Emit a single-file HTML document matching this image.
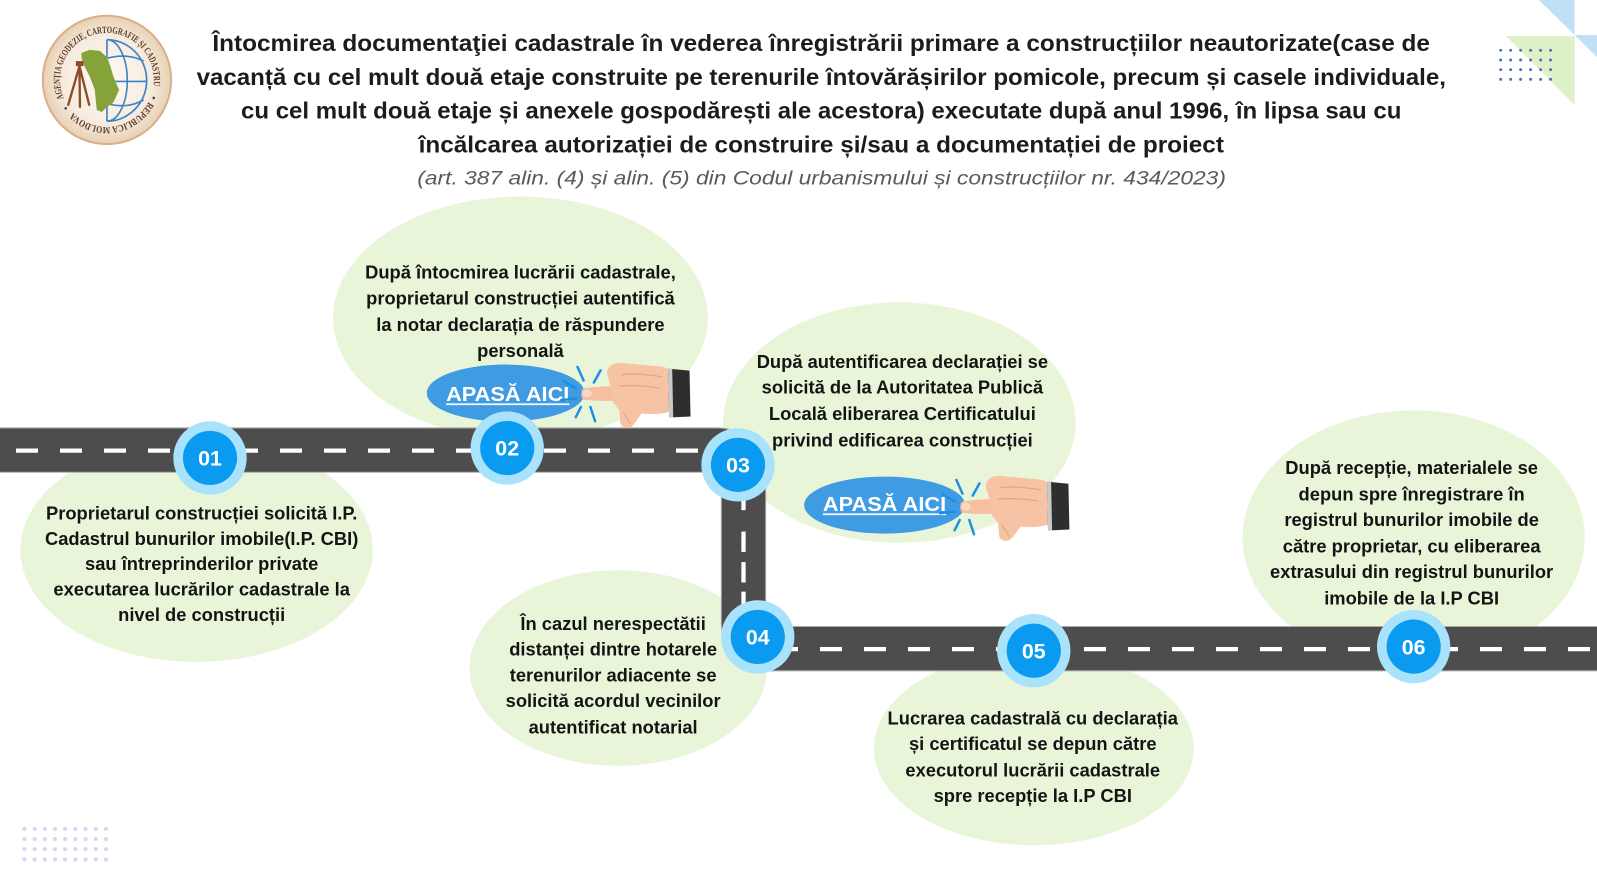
<!DOCTYPE html>
<html>
<head>
<meta charset="utf-8">
<style>
html,body{margin:0;padding:0;background:#fff;}
svg{display:block;}
.t{font-family:"Liberation Sans",Arial,sans-serif;font-weight:bold;fill:#1c1c1c;}
.b{font-family:"Liberation Sans",Arial,sans-serif;font-weight:bold;font-size:18px;fill:#141414;text-anchor:middle;}
.n{font-family:"Liberation Sans",Arial,sans-serif;font-weight:bold;font-size:21px;fill:#fff;text-anchor:middle;}
.btn{font-family:"Liberation Sans",Arial,sans-serif;font-weight:bold;font-size:20px;fill:#fff;}
.lg{font-family:"Liberation Serif","Times New Roman",serif;font-weight:bold;font-size:9.5px;fill:#5b3a26;}
</style>
</head>
<body>
<svg width="1597" height="890" viewBox="0 0 1568 874" preserveAspectRatio="none" xmlns="http://www.w3.org/2000/svg">
<defs>
<radialGradient id="lgbg" cx="50%" cy="50%" r="50%">
<stop offset="0" stop-color="#fffbf6"/>
<stop offset="0.7" stop-color="#f6ebde"/>
<stop offset="1" stop-color="#e8d0b4"/>
</radialGradient>
<path id="lgc" d="M63.31,97.94 A46,46 0 1 1 146.69,59.06 A46,46 0 1 1 63.31,97.94"/>
<g id="hand">
<path d="M1,-5.5 C8,-7 25,-8 38,-8 L40,6 C28,7 10,7 1,5.5 C-2,4 -2,-4 1,-5.5 Z" fill="#f5bfa0"/>
<ellipse cx="4.5" cy="-0.5" rx="4.5" ry="3.8" fill="#fbd9c8"/>
<path d="M24,-20 C24,-30 34,-32 44,-30 L78,-27 C84,-26 86,-22 86,-18 L86,17 C78,20 66,20 58,19 L50,30 C46,35 38,34 37,28 L36,16 L30,8 L28,-6 Z" fill="#f6c3a5"/>
<path d="M38,-19 C50,-21 64,-19 78,-17 M36,-8 C48,-9 62,-8 76,-6" stroke="#e6a587" stroke-width="1.3" fill="none"/>
<path d="M40,18 L47,29" stroke="#e6a587" stroke-width="1.2" fill="none"/>
<path d="M84,-25 L105,-23 L106,22 L85,23 Z" fill="#2e2e2e"/>
<path d="M84,-25 L88,-25 L89,23 L85,23 Z" fill="#c9c9c9"/>
</g>
<g id="spark" stroke="#1a8fe3" stroke-width="2.4" stroke-linecap="round">
<line x1="-19" y1="-13" x2="-6.7" y2="-5.7"/>
<line x1="-21" y1="6" x2="-6.7" y2="4.3"/>
<line x1="-5" y1="-26.7" x2="1" y2="-13.3"/>
<line x1="17.7" y1="-23.3" x2="11" y2="-11.3"/>
<line x1="-1.7" y1="12.7" x2="-6.7" y2="22.7"/>
<line x1="7.7" y1="12.7" x2="12.3" y2="26.7"/>
</g>
</defs>

<!-- top-right decoration -->
<polygon points="1511,0 1546,0 1546,34.4" fill="#c0e0f6"/>
<polygon points="1546,34.4 1568,34.4 1568,56" fill="#c0e0f6"/>
<polygon points="1478.6,35.3 1546,35.3 1546,103" fill="#dff1c8"/>
<g fill="#4a6db3">
<circle cx="1473.4" cy="49.4" r="1.4"/><circle cx="1483.2" cy="49.4" r="1.4"/><circle cx="1493" cy="49.4" r="1.4"/><circle cx="1502.8" cy="49.4" r="1.4"/><circle cx="1512.6" cy="49.4" r="1.4"/><circle cx="1522.4" cy="49.4" r="1.4"/>
<circle cx="1473.4" cy="58.9" r="1.4"/><circle cx="1483.2" cy="58.9" r="1.4"/><circle cx="1493" cy="58.9" r="1.4"/><circle cx="1502.8" cy="58.9" r="1.4"/><circle cx="1512.6" cy="58.9" r="1.4"/><circle cx="1522.4" cy="58.9" r="1.4"/>
<circle cx="1473.4" cy="68.4" r="1.4"/><circle cx="1483.2" cy="68.4" r="1.4"/><circle cx="1493" cy="68.4" r="1.4"/><circle cx="1502.8" cy="68.4" r="1.4"/><circle cx="1512.6" cy="68.4" r="1.4"/><circle cx="1522.4" cy="68.4" r="1.4"/>
<circle cx="1473.4" cy="77.9" r="1.4"/><circle cx="1483.2" cy="77.9" r="1.4"/><circle cx="1493" cy="77.9" r="1.4"/><circle cx="1502.8" cy="77.9" r="1.4"/><circle cx="1512.6" cy="77.9" r="1.4"/><circle cx="1522.4" cy="77.9" r="1.4"/>
</g>

<!-- bottom-left dots -->
<g fill="#d9d5f1">
<circle cx="24" cy="814" r="2"/><circle cx="34" cy="814" r="2"/><circle cx="44" cy="814" r="2"/><circle cx="54" cy="814" r="2"/><circle cx="64" cy="814" r="2"/><circle cx="74" cy="814" r="2"/><circle cx="84" cy="814" r="2"/><circle cx="94" cy="814" r="2"/><circle cx="104" cy="814" r="2"/>
<circle cx="24" cy="824" r="2"/><circle cx="34" cy="824" r="2"/><circle cx="44" cy="824" r="2"/><circle cx="54" cy="824" r="2"/><circle cx="64" cy="824" r="2"/><circle cx="74" cy="824" r="2"/><circle cx="84" cy="824" r="2"/><circle cx="94" cy="824" r="2"/><circle cx="104" cy="824" r="2"/>
<circle cx="24" cy="834" r="2"/><circle cx="34" cy="834" r="2"/><circle cx="44" cy="834" r="2"/><circle cx="54" cy="834" r="2"/><circle cx="64" cy="834" r="2"/><circle cx="74" cy="834" r="2"/><circle cx="84" cy="834" r="2"/><circle cx="94" cy="834" r="2"/><circle cx="104" cy="834" r="2"/>
<circle cx="24" cy="844" r="2"/><circle cx="34" cy="844" r="2"/><circle cx="44" cy="844" r="2"/><circle cx="54" cy="844" r="2"/><circle cx="64" cy="844" r="2"/><circle cx="74" cy="844" r="2"/><circle cx="84" cy="844" r="2"/><circle cx="94" cy="844" r="2"/><circle cx="104" cy="844" r="2"/>
</g>

<!-- logo -->
<circle cx="105" cy="78.5" r="63" fill="url(#lgbg)" stroke="#d8b088" stroke-width="2"/>
<text class="lg"><textPath href="#lgc" startOffset="1.6" textLength="169" lengthAdjust="spacingAndGlyphs">AGENȚIA GEODEZIE, CARTOGRAFIE ȘI CADASTRU</textPath></text>
<text class="lg"><textPath href="#lgc" startOffset="180">•</textPath></text>
<text class="lg"><textPath href="#lgc" startOffset="187" textLength="87" lengthAdjust="spacingAndGlyphs">REPUBLICA MOLDOVA</textPath></text>
<text class="lg"><textPath href="#lgc" startOffset="280">•</textPath></text>
<g fill="none" stroke="#3b82c8" stroke-width="1.6">
<line x1="105" y1="39" x2="105" y2="119"/>
<path d="M105,39 A39,40 0 0 1 105,119"/>
<path d="M105,39 A20,40 0 0 1 105,119"/>
<path d="M106,57 Q126,52 141,60"/>
<path d="M106,80 L144,80"/>
<path d="M106,102 Q126,107 141,98"/>
</g>
<path d="M80,52 L88,49 L98,50 L105,56 L108,64 L111,74 L114,82 L117,88 L114,95 L111,101 L105,105 L100,110 L95,108 L94,98 L93,88 L88,75 L83,65 L80,57 Z" fill="#86a33a"/>
<g stroke="#8d4b2a" stroke-width="2.3" fill="none" stroke-linecap="round">
<rect x="74.5" y="60" width="7.5" height="5" fill="#8d4b2a" stroke="none"/>
<line x1="78" y1="65" x2="67" y2="103"/>
<line x1="78" y1="65" x2="78.5" y2="105"/>
<line x1="78" y1="65" x2="87.6" y2="103"/>
</g>

<!-- title -->
<text class="t" font-size="22.5" x="208.5" y="50" textLength="1195.5" lengthAdjust="spacingAndGlyphs">Întocmirea documentaţiei cadastrale în vederea înregistrării primare a construcțiilor neautorizate(case de</text>
<text class="t" font-size="22.5" x="193" y="83.3" textLength="1226.7" lengthAdjust="spacingAndGlyphs">vacanță cu cel mult două etaje construite pe terenurile întovărășirilor pomicole, precum și casele individuale,</text>
<text class="t" font-size="22.5" x="236.6" y="116.6" textLength="1139.4" lengthAdjust="spacingAndGlyphs">cu cel mult două etaje și anexele gospodărești ale acestora) executate după anul 1996, în lipsa sau cu</text>
<text class="t" font-size="22.5" x="411" y="150" textLength="790.7" lengthAdjust="spacingAndGlyphs">încălcarea autorizației de construire și/sau a documentației de proiect</text>
<text font-family="Liberation Sans, Arial, sans-serif" font-style="italic" font-size="19.5" fill="#5a5a5a" x="409.7" y="181" textLength="794" lengthAdjust="spacingAndGlyphs">(art. 387 alin. (4) și alin. (5) din Codul urbanismului și construcțiilor nr. 434/2023)</text>

<!-- bubbles -->
<g fill="#e9f5d8">
<ellipse cx="193" cy="540" rx="173" ry="110"/>
<ellipse cx="511" cy="312" rx="184" ry="119"/>
<ellipse cx="883" cy="415" rx="173" ry="118"/>
<ellipse cx="607" cy="656" rx="146" ry="96"/>
<ellipse cx="1015" cy="735" rx="157" ry="95"/>
<ellipse cx="1388" cy="528" rx="168" ry="125"/>
</g>

<!-- road -->
<path d="M -10 442 H 705 A 25 25 0 0 1 730 467 V 612 A 25 25 0 0 0 755 637 H 1580" fill="none" stroke="#a8a8a8" stroke-width="44.5"/>
<path d="M -10 442 H 705 A 25 25 0 0 1 730 467 V 612 A 25 25 0 0 0 755 637 H 1580" fill="none" stroke="#4d4d4d" stroke-width="42.5"/>
<line x1="15.7" y1="442.5" x2="700" y2="442.5" stroke="#fff" stroke-width="4.2" stroke-dasharray="21.6 21.6"/>
<line x1="761.9" y1="637.5" x2="1580" y2="637.5" stroke="#fff" stroke-width="4.2" stroke-dasharray="21.6 21.6"/>
<g fill="#fff">
<rect x="727.9" y="483" width="4.2" height="18"/>
<rect x="727.9" y="522" width="4.2" height="20"/>
<rect x="727.9" y="552" width="4.2" height="20"/>
<rect x="727.9" y="581" width="4.2" height="20"/>
</g>

<!-- buttons -->
<ellipse cx="496.5" cy="386" rx="77.5" ry="28" fill="#3f9be2"/>
<text class="btn" x="438" y="394" textLength="121" lengthAdjust="spacingAndGlyphs">APASĂ AICI</text>
<line x1="438" y1="397" x2="559" y2="397" stroke="#fff" stroke-width="1.8"/>
<ellipse cx="868.5" cy="496" rx="79" ry="28" fill="#3f9be2"/>
<text class="btn" x="808" y="502" textLength="121" lengthAdjust="spacingAndGlyphs">APASĂ AICI</text>
<line x1="808" y1="505" x2="929" y2="505" stroke="#fff" stroke-width="1.8"/>

<!-- circles -->
<g>
<circle cx="206.2" cy="449.7" r="36" fill="#a9e3fb"/><circle cx="206.2" cy="449.7" r="26.6" fill="#0a9bf0"/>
<text class="n" x="206.2" y="457.2">01</text>
<circle cx="498" cy="440" r="36" fill="#a9e3fb"/><circle cx="498" cy="440" r="26.6" fill="#0a9bf0"/>
<text class="n" x="498" y="447.5">02</text>
<circle cx="724.6" cy="456.5" r="36" fill="#a9e3fb"/><circle cx="724.6" cy="456.5" r="26.6" fill="#0a9bf0"/>
<text class="n" x="724.6" y="464">03</text>
<circle cx="744" cy="625.5" r="36" fill="#a9e3fb"/><circle cx="744" cy="625.5" r="26.6" fill="#0a9bf0"/>
<text class="n" x="744" y="633">04</text>
<circle cx="1015" cy="639" r="36" fill="#a9e3fb"/><circle cx="1015" cy="639" r="26.6" fill="#0a9bf0"/>
<text class="n" x="1015" y="646.5">05</text>
<circle cx="1388" cy="635" r="36" fill="#a9e3fb"/><circle cx="1388" cy="635" r="26.6" fill="#0a9bf0"/>
<text class="n" x="1388" y="642.5">06</text>
</g>

<!-- hands -->
<use href="#spark" transform="translate(572,387)"/>
<use href="#hand" transform="translate(572,387)"/>
<use href="#spark" transform="translate(944,498)"/>
<use href="#hand" transform="translate(944,498)"/>

<!-- bubble texts -->
<text class="b" x="198" y="510">Proprietarul construcției solicită I.P.</text>
<text class="b" x="198" y="535">Cadastrul bunurilor imobile(I.P. CBI)</text>
<text class="b" x="198" y="560">sau întreprinderilor private</text>
<text class="b" x="198" y="585">executarea lucrărilor cadastrale la</text>
<text class="b" x="198" y="610">nivel de construcții</text>

<text class="b" x="511" y="273.5">După întocmirea lucrării cadastrale,</text>
<text class="b" x="511" y="299">proprietarul construcției autentifică</text>
<text class="b" x="511" y="325">la notar declarația de răspundere</text>
<text class="b" x="511" y="350.5">personală</text>

<text class="b" x="886" y="361.5">După autentificarea declarației se</text>
<text class="b" x="886" y="386.5">solicită de la Autoritatea Publică</text>
<text class="b" x="886" y="412.5">Locală eliberarea Certificatului</text>
<text class="b" x="886" y="438.5">privind edificarea construcției</text>

<text class="b" x="602" y="618.5">În cazul nerespectătii</text>
<text class="b" x="602" y="643.5">distanței dintre hotarele</text>
<text class="b" x="602" y="669.5">terenurilor adiacente  se</text>
<text class="b" x="602" y="694.5">solicită acordul vecinilor</text>
<text class="b" x="602" y="720.5">autentificat notarial</text>

<text class="b" x="1014" y="711.5">Lucrarea cadastrală cu declarația</text>
<text class="b" x="1014" y="736.5">și certificatul se depun către</text>
<text class="b" x="1014" y="762.5">executorul lucrării cadastrale</text>
<text class="b" x="1014" y="787.5">spre recepție la I.P CBI</text>

<text class="b" x="1386" y="465.5">După recepție, materialele se</text>
<text class="b" x="1386" y="491.5">depun spre înregistrare în</text>
<text class="b" x="1386" y="516.5">registrul bunurilor imobile de</text>
<text class="b" x="1386" y="542.5">către proprietar, cu eliberarea</text>
<text class="b" x="1386" y="567.5">extrasului din registrul bunurilor</text>
<text class="b" x="1386" y="593.5">imobile de la I.P CBI</text>
</svg>
</body>
</html>
